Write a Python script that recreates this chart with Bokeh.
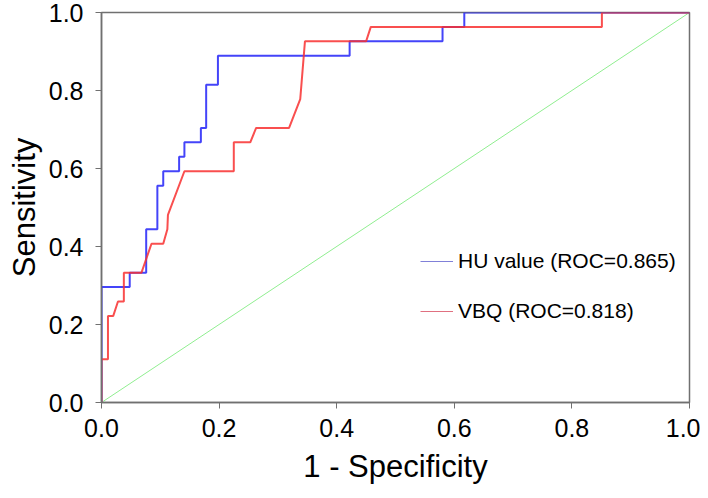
from bokeh.plotting import figure
from bokeh.models import Range1d, Legend, LegendItem, FixedTicker, PrintfTickFormatter, Title
from bokeh.embed import file_html
from bokeh.resources import INLINE

# ROC curve data (1 - specificity, sensitivity)
hu_fpr = [0, 0, 0.048, 0.048, 0.076, 0.076, 0.095, 0.095, 0.105, 0.105, 0.132, 0.132,
          0.141, 0.141, 0.169, 0.169, 0.178, 0.178, 0.198, 0.198, 0.422, 0.422,
          0.580, 0.580, 0.617, 0.617, 1.0]
hu_tpr = [0, 0.296, 0.296, 0.333, 0.333, 0.444, 0.444, 0.556, 0.556, 0.593, 0.593, 0.630,
          0.630, 0.667, 0.667, 0.704, 0.704, 0.815, 0.815, 0.889, 0.889, 0.926,
          0.926, 0.963, 0.963, 1.0, 1.0]

vbq_fpr = [0, 0, 0.011, 0.011, 0.020, 0.028, 0.038, 0.038, 0.068, 0.085, 0.105, 0.112,
           0.113, 0.141, 0.225, 0.225, 0.253, 0.263, 0.319, 0.338, 0.340, 0.346,
           0.450, 0.458, 0.851, 0.851, 1.0]
vbq_tpr = [0, 0.111, 0.111, 0.222, 0.222, 0.259, 0.259, 0.333, 0.333, 0.407, 0.407, 0.444,
           0.481, 0.593, 0.593, 0.667, 0.667, 0.704, 0.704, 0.778, 0.815, 0.926,
           0.926, 0.963, 0.963, 1.0, 1.0]

ref_x = [0, 1]
ref_y = [0, 1]

ticks = [0.0, 0.2, 0.4, 0.6, 0.8, 1.0]
labels = ["HU value (ROC=0.865)", "VBQ (ROC=0.818)"]
x_title = "1 - Specificity"
y_title = "Sensitivity"

FONT = "Liberation Sans"
NAN = float("nan")

p = figure(width=700, height=498, output_backend="svg", toolbar_location=None,
           x_range=Range1d(0, 1), y_range=Range1d(0, 1),
           min_border_left=100, min_border_right=11, min_border_top=12, min_border_bottom=96)

p.xgrid.visible = False
p.ygrid.visible = False
p.outline_line_color = "#707070"
p.outline_line_width = 1.5
p.background_fill_color = "white"
p.border_fill_color = "white"

p.line(ref_x, ref_y, line_color="#90ee90", line_width=1)
p.line(hu_fpr, hu_tpr, line_color="#3030f8", line_width=2, line_alpha=0.9)
p.line(vbq_fpr, vbq_tpr, line_color="#f83030", line_width=2, line_alpha=0.85)

leg_hu = p.line([NAN], [NAN], line_color="#8080d8", line_width=1)
leg_vbq = p.line([NAN], [NAN], line_color="#e07080", line_width=1)

for ax in (p.xaxis[0], p.yaxis[0]):
    ax.ticker = FixedTicker(ticks=ticks)
    ax.formatter = PrintfTickFormatter(format="%.1f")
    ax.minor_tick_line_color = None
    ax.major_tick_out = 6
    ax.major_tick_in = 0
    ax.major_tick_line_color = "#707070"
    ax.axis_line_color = "#707070"
    ax.axis_line_width = 1.5
    ax.major_label_text_font = FONT
    ax.major_label_text_font_size = "25px"
    ax.major_label_text_color = "black"
p.xaxis[0].major_label_standoff = 10
p.yaxis[0].major_label_standoff = 12

# axis titles as side-panel titles
p.add_layout(Title(text=x_title, align="center", text_font=FONT, text_font_size="31px",
                   text_font_style="normal", text_color="black", standoff=15), "below")
p.add_layout(Title(text=y_title, align="center", text_font=FONT, text_font_size="31px",
                   text_font_style="normal", text_color="black", standoff=8), "left")

legend = Legend(items=[LegendItem(label=labels[0], renderers=[leg_hu]),
                       LegendItem(label=labels[1], renderers=[leg_vbq])],
                location=(319, 79))
legend.border_line_color = None
legend.background_fill_alpha = 0
legend.padding = 0
legend.margin = 0
legend.spacing = 26
legend.glyph_width = 33
legend.glyph_height = 20
legend.label_height = 20
legend.label_standoff = 5
legend.label_text_font = FONT
legend.label_text_font_size = "21px"
legend.label_text_color = "black"
p.add_layout(legend)

open("out.html", "w").write(file_html(p, INLINE))
